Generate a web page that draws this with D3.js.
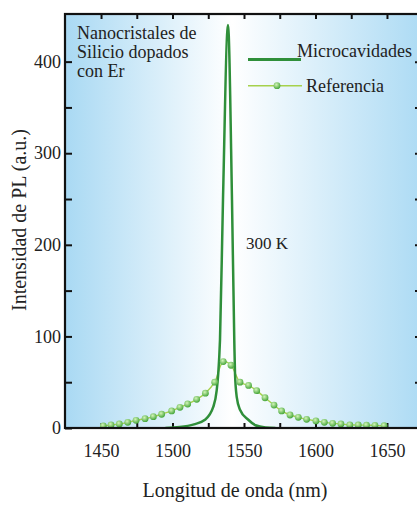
<!DOCTYPE html>
<html>
<head>
<meta charset="utf-8">
<script src="https://cdn.jsdelivr.net/npm/d3@7"></script>
<style>
	body { margin: 0; background: #fff; }
</style>
</head>
<body>
<div id="chart"></div>
<script>
// Microcavity spectrum: wavelength (nm) / PL intensity
const microWave = [1495, 1505, 1515, 1522.7, 1528.5, 1530.9, 1532, 1532.7, 1533.2, 1535.3, 1538.8, 1541.6, 1543.2, 1543.7, 1544.9, 1547.2, 1553, 1558, 1565, 1572];
const microVals = [0, 1, 4, 9, 23, 41, 60, 78, 96, 249, 440, 249, 96, 60, 34, 20, 9, 3, 0.5, 0];

// Reference sample (dotted curve)
const refWave = [1451.6, 1457, 1462.8, 1468.7, 1474.5, 1480.8, 1486.6, 1492.4, 1499.4, 1505.2, 1510.6, 1516.9, 1523, 1529.5, 1535.5, 1540.9, 1547.2, 1553.2, 1558.9, 1564.7, 1571, 1576.3, 1582.2, 1588, 1593.8, 1600.3, 1606.2, 1612, 1617.8, 1624, 1629.9, 1635.7, 1641.6, 1648];
const refVals = [2.2, 3.3, 4.4, 6.2, 8.4, 10.2, 12.4, 15, 18.6, 22.6, 26.2, 31.3, 38, 50, 72.5, 68.5, 50, 46.5, 40.8, 33, 25, 18.6, 14.2, 11.7, 9.5, 7.7, 6.2, 5.1, 4.4, 3.3, 3.3, 3.0, 2.9, 2.5];

const xTicks = [1450, 1475, 1500, 1525, 1550, 1575, 1600, 1625, 1650];
const yTicks = [0, 50, 100, 150, 200, 250, 300, 350, 400];

const sampleLabel = ['Nanocristales de', 'Silicio dopados', 'con Er'];
const seriesNames = ['Microcavidades', 'Referencia'];

const width = 417, height = 527;
const plot = {left: 65, right: 421, top: 14, bottom: 428};
const serif = '"Liberation Serif", "DejaVu Serif", "Times New Roman", serif';

const svg = d3.select('#chart').append('svg')
	.attr('width', width)
	.attr('height', height)
	.attr('font-family', serif);

const x = d3.scaleLinear().domain([1424.8, 1673.8]).range([plot.left, plot.right]);
const y = d3.scaleLinear().domain([0, 452]).range([plot.bottom, plot.top]);

const defs = svg.append('defs');

// blue - white - blue background
const bg = defs.append('linearGradient').attr('id', 'bg');
bg.append('stop').attr('offset', '0%').attr('stop-color', '#a9d9f3');
bg.append('stop').attr('offset', '47%').attr('stop-color', '#ffffff');
bg.append('stop').attr('offset', '100%').attr('stop-color', '#addbf4');

// shiny bead for the reference markers
const bead = defs.append('radialGradient').attr('id', 'bead')
	.attr('cx', '40%').attr('cy', '35%').attr('r', '65%');
bead.append('stop').attr('offset', '0%').attr('stop-color', '#d4f5b8');
bead.append('stop').attr('offset', '100%').attr('stop-color', '#45a63a');

defs.append('clipPath').attr('id', 'clip')
	.append('rect')
	.attr('x', plot.left).attr('y', plot.top)
	.attr('width', plot.right - plot.left).attr('height', plot.bottom - plot.top);

svg.append('rect')
	.attr('x', plot.left).attr('y', plot.top)
	.attr('width', plot.right - plot.left).attr('height', plot.bottom - plot.top)
	.style('fill', 'url(#bg)');

// axes: ticks point inward, labels only on multiples of 50
const fmtX = d => d % 50 === 0 ? d : '';
const fmtY = d => d % 100 === 0 ? d : '';

function styleAxis(g){
	g.attr('font-family', serif);
	g.select('.domain').remove();
	g.selectAll('line').style('stroke', '#111').style('stroke-width', 2);
	g.selectAll('text')
		.style('font-family', serif)
		.style('font-size', '18px')
		.style('fill', '#222');
}

svg.append('g')
	.attr('transform', `translate(0,${plot.bottom})`)
	.call(d3.axisBottom(x).tickValues(xTicks).tickFormat(fmtX).tickSizeInner(-5).tickSizeOuter(0).tickPadding(16))
	.call(styleAxis);

svg.append('g')
	.attr('transform', `translate(0,${plot.top})`)
	.call(d3.axisTop(x).tickValues(xTicks).tickFormat('').tickSizeInner(-5).tickSizeOuter(0))
	.call(styleAxis);

svg.append('g')
	.attr('transform', `translate(${plot.left},0)`)
	.call(d3.axisLeft(y).tickValues(yTicks).tickFormat(fmtY).tickSizeInner(-7).tickSizeOuter(0).tickPadding(4))
	.call(styleAxis);

svg.append('g')
	.attr('transform', `translate(${plot.right},0)`)
	.call(d3.axisRight(y).tickValues(yTicks.slice(1)).tickFormat('').tickSizeInner(-6).tickSizeOuter(0))
	.call(styleAxis);

// curves
const micro = microWave.map((w, i) => [w, microVals[i]]);
const ref = refWave.map((w, i) => [w, refVals[i]]);

const curves = svg.append('g').attr('clip-path', 'url(#clip)');

curves.append('path')
	.datum(ref)
	.attr('d', d3.line().x(d => x(d[0])).y(d => y(d[1])).curve(d3.curveCatmullRom))
	.style('fill', 'none')
	.style('stroke', '#a6d14c')
	.style('stroke-width', 1.4);

curves.append('path')
	.datum(micro)
	.attr('d', d3.line().x(d => x(d[0])).y(d => y(d[1])).curve(d3.curveMonotoneX))
	.style('fill', 'none')
	.style('stroke', '#2f8f3a')
	.style('stroke-width', 2.5);

curves.selectAll('circle.ref')
	.data(ref)
	.enter()
		.append('circle')
		.attr('class', 'ref')
		.attr('cx', d => x(d[0]))
		.attr('cy', d => y(d[1]))
		.attr('r', 3.4)
		.style('fill', 'url(#bead)');

// frame
svg.append('rect')
	.attr('x', plot.left).attr('y', plot.top)
	.attr('width', plot.right - plot.left).attr('height', plot.bottom - plot.top)
	.style('fill', 'none')
	.style('stroke', '#111')
	.style('stroke-width', 2.2);

function label(sel, size){
	return sel.style('font-family', serif).style('font-size', size).style('fill', '#222');
}

// annotations
svg.append('text')
	.attr('x', 77).attr('y', 39)
	.call(label, '18px')
	.selectAll('tspan')
	.data(sampleLabel)
	.enter()
		.append('tspan')
		.attr('x', 77)
		.attr('dy', (d, i) => i ? 19 : 0)
		.text(d => d);

svg.append('text')
	.attr('x', 246).attr('y', 249)
	.call(label, '17px')
	.text('300 K');

// legend
const legend = svg.append('g');
legend.append('line')
	.attr('x1', 248).attr('x2', 301).attr('y1', 59.5).attr('y2', 59.5)
	.style('stroke', '#2f8f3a').style('stroke-width', 3);
legend.append('text')
	.attr('x', 297).attr('y', 57)
	.call(label, '18px')
	.text(seriesNames[0]);
legend.append('line')
	.attr('x1', 248).attr('x2', 302).attr('y1', 85.7).attr('y2', 85.7)
	.style('stroke', '#a6d14c').style('stroke-width', 1.5);
legend.append('circle')
	.attr('cx', 277).attr('cy', 85.7).attr('r', 3.4)
	.style('fill', 'url(#bead)');
legend.append('text')
	.attr('x', 306).attr('y', 92)
	.call(label, '18px')
	.text(seriesNames[1]);

// axis titles
svg.append('text')
	.attr('transform', 'translate(26,220) rotate(-90)')
	.attr('text-anchor', 'middle')
	.call(label, '20px')
	.text('Intensidad de PL (a.u.)');

svg.append('text')
	.attr('x', 235).attr('y', 497)
	.attr('text-anchor', 'middle')
	.call(label, '20px')
	.text('Longitud de onda (nm)');
</script>
</body>
</html>
